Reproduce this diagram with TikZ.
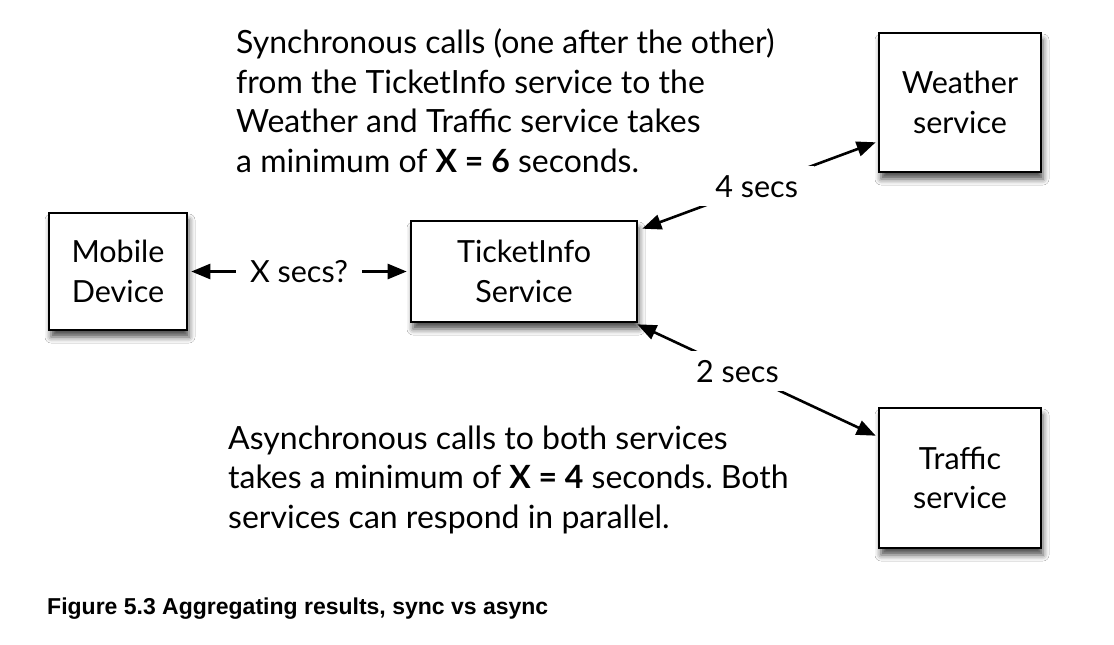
\documentclass[tikz,border=0pt]{standalone}
\usepackage{fontspec}
\setmainfont{Lato}
\newfontfamily\capfont{Liberation Sans}
\usetikzlibrary{arrows.meta,shadows.blur,calc}
\tikzset{
  bigtext/.style={font=\fontsize{30.5}{39.5}\selectfont},
  notetext/.style={font=\fontsize{32}{39.5}\selectfont\frenchspacing},
  boxnode/.style={bigtext, draw=black, line width=2.6pt, fill=white, align=center, inner sep=0pt,
    blur shadow={shadow xshift=2pt, shadow yshift=-7pt, shadow blur radius=6pt, shadow opacity=70}},
  conn/.style={line width=2.6pt, {Triangle[length=19pt,width=15pt]}-{Triangle[length=19pt,width=15pt]}},
  lbl/.style={bigtext, fill=white, inner xsep=16pt, inner ysep=9pt},
  note/.style={notetext, align=left, anchor=north west, inner sep=0pt}
}
\begin{document}
\begin{tikzpicture}[x=1pt,y=-1pt]
\useasboundingbox[fill=white] (0,0) rectangle (1114,645);
\node[boxnode, minimum width=138pt, minimum height=117pt] (M) at (118,271.5) {Mobile\\Device};
\node[boxnode, minimum width=226pt, minimum height=101pt] (T) at (524,271.5) {TicketInfo\\Service};
\node[boxnode, minimum width=162pt, minimum height=139pt] (W) at (960,102.5) {Weather\\service};
\node[boxnode, minimum width=162pt, minimum height=140pt] (R) at (960,478) {Traffic\\service};
\coordinate (t1) at ($(T.north east)+(4,9)$);
\coordinate (w1) at ($(W.south west)+(-2,-31)$);
\coordinate (t2) at ($(T.south east)+(-1,1)$);
\coordinate (r1) at ($(R.north west)+(-2,29)$);
\draw[conn, shorten <=3pt, shorten >=3pt] (M.east) -- node[lbl, inner xsep=14pt] (lx) {X secs?} (T.west);
\draw[conn] (t1) -- node[lbl, pos=0.49] (l4) {4 secs} (w1);
\draw[conn] (t2) -- node[lbl, pos=0.42] (l2) {2 secs} (r1);
\node[note] (top) at (236,28.5) {Synchronous calls (one after the other)\\from the TicketInfo service to the\\Weather and Traffic service takes\\a minimum of \textbf{X = 6} seconds.};
\node[note] (bot) at (228,425.5) {Asynchronous calls to both services\\takes a minimum of \textbf{X = 4} seconds. Both\\services can respond in parallel.};
\node[anchor=west, inner sep=0pt, font=\capfont\bfseries\fontsize{23}{27}\selectfont] (cap) at (47,609) {Figure 5.3 Aggregating results, sync vs async};
\end{tikzpicture}
\end{document}
